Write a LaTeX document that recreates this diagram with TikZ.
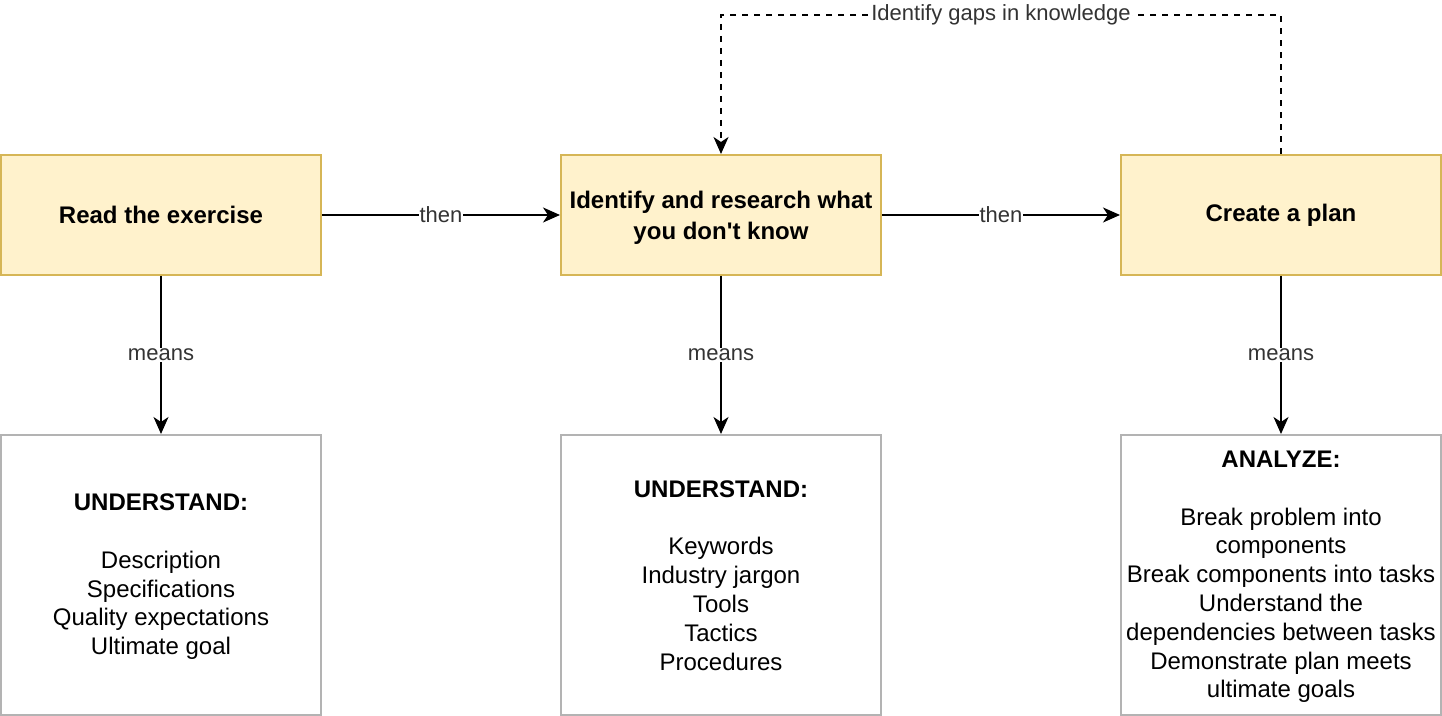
\documentclass[tikz,border=0pt]{standalone}
\usepackage{fontspec}
\setmainfont{Liberation Sans}[Ligatures=TeXOff]
\usetikzlibrary{arrows.meta}
\definecolor{topfill}{HTML}{FFF2CC}
\definecolor{topstroke}{HTML}{D6B656}
\definecolor{botstroke}{HTML}{B3B3B3}
\definecolor{labelcol}{HTML}{333333}
\tikzset{
  topbox/.style={draw=topstroke, fill=topfill, line width=1pt, minimum width=160pt, minimum height=60pt, inner sep=0pt, align=center, font=\fontsize{12pt}{15pt}\selectfont\bfseries},
  botbox/.style={draw=botstroke, fill=white, line width=1pt, minimum width=160pt, minimum height=140pt, inner sep=0pt, align=center, font=\fontsize{12pt}{14.4pt}\selectfont},
  conn/.style={line width=1pt, -{Stealth[length=8.5pt, width=7.5pt, inset=2.5pt]}},
  elabel/.style={fill=white, text=labelcol, inner sep=0.5pt, font=\fontsize{11pt}{13pt}\selectfont},
}
\newcommand{\lowerby}[2]{\raisebox{-#1}[\height][\depth]{#2}}
\begin{document}
\begin{tikzpicture}[x=0.5pt, y=-0.5pt]
\useasboundingbox (0,0) rectangle (1442,716);
\node[topbox] (read) at (161,215) {Read the exercise};
\node[topbox] (ident) at (721,215) {\lowerby{1.5pt}{\begin{tabular}{@{}c@{}}Identify and research what\\[0.6pt]you don't know\end{tabular}}};
\node[topbox] (plan) at (1281,215) {Create a plan};
\node[botbox] (u1) at (161,575) {\lowerby{1pt}{\begin{tabular}{@{}c@{}}\textbf{UNDERSTAND:}\\[14.4pt]Description\\Specifications\\Quality expectations\\Ultimate goal\end{tabular}}};
\node[botbox] (u2) at (721,575) {\lowerby{1.5pt}{\begin{tabular}{@{}c@{}}\textbf{UNDERSTAND:}\\[14.4pt]Keywords\\Industry jargon\\Tools\\Tactics\\Procedures\end{tabular}}};
\node[botbox] (an) at (1281,575) {\lowerby{1pt}{\begin{tabular}{@{}c@{}}\textbf{ANALYZE:}\\[14.4pt]Break problem into\\components\\Break components into tasks\\Understand the\\dependencies between tasks\\Demonstrate plan meets\\ultimate goals\end{tabular}}};
\coordinate (c1) at (1281,15);
\coordinate (c2) at (721,15);
\draw[conn] (read) -- node[elabel] {then} (ident);
\draw[conn] (ident) -- node[elabel] {then} (plan);
\draw[conn] (read) -- node[elabel] {means} (u1);
\draw[conn] (ident) -- node[elabel] {means} (u2);
\draw[conn] (plan) -- node[elabel] {means} (an);
\draw[conn, dash pattern=on 3pt off 3pt] (plan.north) -- (c1) -- node[elabel, pos=0.5] {Identify gaps in knowledge} (c2) -- (ident.north);
\end{tikzpicture}
\end{document}
